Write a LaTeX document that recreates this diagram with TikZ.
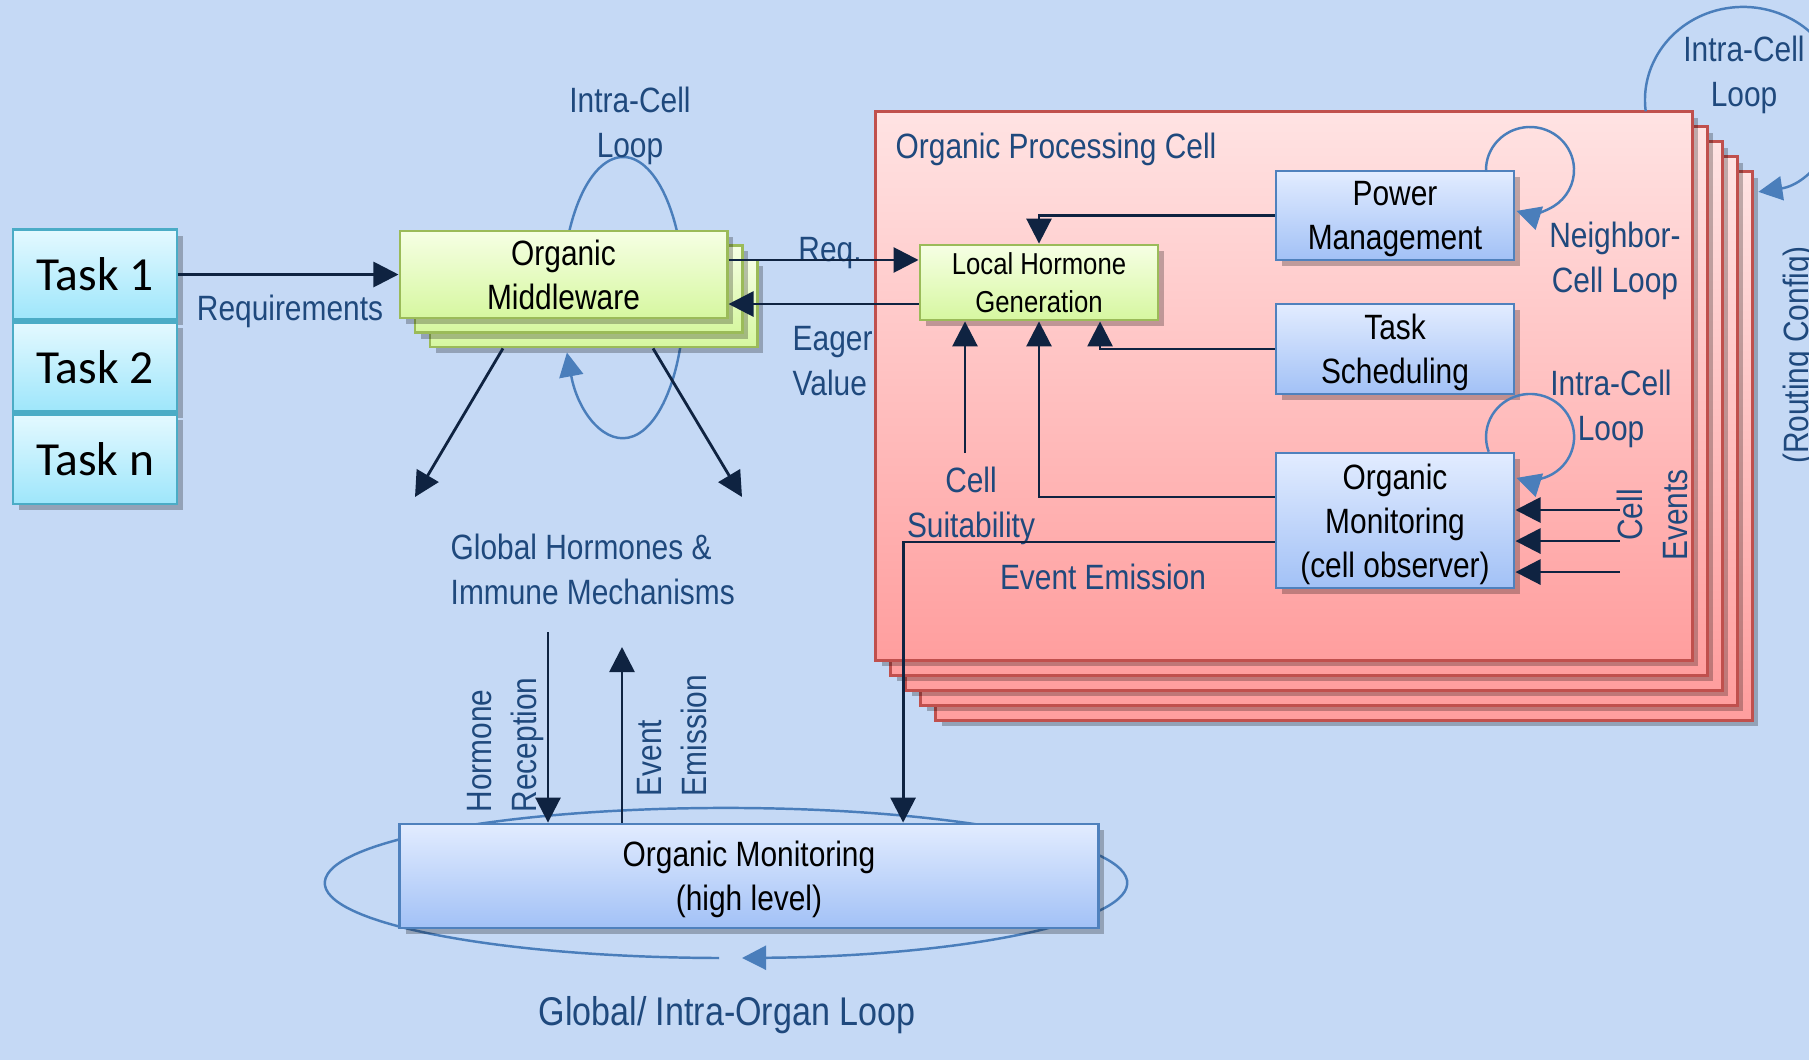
\documentclass[tikz,border=0pt]{standalone}
\usepackage{fontspec}
\setmainfont{Liberation Sans}[FakeStretch=0.85]
\newfontfamily\taskfont{Carlito}
\usetikzlibrary{arrows.meta, positioning, shadows}

\definecolor{bgblue}{HTML}{C5D9F5}
\definecolor{labelblue}{HTML}{1F497D}
\definecolor{arrowdark}{HTML}{0F2341}
\definecolor{loopblue}{HTML}{4A7EBB}
\definecolor{tasktop}{HTML}{E4F9FF}
\definecolor{taskbot}{HTML}{9EE6FB}
\definecolor{taskedge}{HTML}{4BACC6}
\definecolor{mwtop}{HTML}{F6FFE4}
\definecolor{mwbot}{HTML}{D6F7A0}
\definecolor{mwedge}{HTML}{9BBB59}
\definecolor{bluetop}{HTML}{E2ECFF}
\definecolor{bluebot}{HTML}{A2C1F6}
\definecolor{blueedge}{HTML}{4F81BD}
\definecolor{celltop}{HTML}{FFE3E3}
\definecolor{cellbot}{HTML}{FF9E9E}
\definecolor{celledge}{HTML}{C0504D}

\newcommand\boxfont{\fontsize{10}{12.5}\selectfont}
\newcommand\smallboxfont{\fontsize{8.6}{10.8}\selectfont}
\newcommand\lblfont{\fontsize{10}{12.8}\selectfont}
\newcommand\biglblfont{\fontsize{11.4}{14}\selectfont}

\begin{document}
\begin{tikzpicture}[x=0.01cm, y=-0.01cm,
        every node/.style={inner sep=0pt},
        shadowed/.style={drop shadow={shadow xshift=0.6mm, shadow yshift=-0.6mm, opacity=0.25, fill=black}},
        taskbox/.style={draw=taskedge, line width=0.8pt, top color=tasktop, bottom color=taskbot, shadowed, minimum width=1.64cm, minimum height=0.895cm, text depth=0pt, font=\taskfont\fontsize{13.5}{16}\selectfont},
        mwbox/.style={draw=mwedge, line width=0.8pt, top color=mwtop, bottom color=mwbot, shadowed, minimum width=3.27cm, minimum height=0.87cm, align=center, text depth=0pt, font=\boxfont},
        bluebox/.style={draw=blueedge, line width=0.8pt, top color=bluetop, bottom color=bluebot, shadowed, minimum width=2.38cm, align=center, text depth=0pt, font=\boxfont},
        cellbox/.style={draw=celledge, line width=0.8pt, top color=celltop, bottom color=cellbot, shadowed, minimum width=8.16cm, minimum height=5.48cm},
        lbl/.style={text=labelblue, font=\lblfont, align=center},
        midlbl/.style={lbl, text depth=0pt},
        line/.style={draw=arrowdark, line width=0.8pt, -{Triangle[length=2.5mm, width=2.5mm]}},
        loopline/.style={draw=loopblue, line width=0.7pt, -{Triangle[length=2.4mm, width=2.4mm]}}
    ]

    % Background
    \fill[bgblue] (0,0) rectangle (1809,1060);
    \useasboundingbox (0,0) rectangle (1809,1060);

    % Middleware loop (behind the boxes)
    \draw[loopline] (563,322) arc[start angle=190, end angle=-157, x radius=0.61cm, y radius=1.405cm];

    % Tasks
    \node[taskbox] (task1) at (95,274.5) {Task 1};
    \node[taskbox, below=0pt of task1] (task2) {Task 2};
    \node[taskbox, below=0pt of task2] (task3) {Task n};

    % Organic middleware (stacked)
    \node[mwbox] (mw3) at (593.5,303.5) {};
    \node[mwbox] (mw2) at (578.5,289) {};
    \node[mwbox] (mw) at (563.5,274.5) {Organic\\Middleware};

    % Organic processing cells (stacked)
    \foreach \k in {4,3,2,1}
        \node[cellbox] at (1284+15*\k,386+15*\k) {};
    \node[cellbox] (cell) at (1284,386) {};

    % Cell components
    \node[bluebox, draw=mwedge, top color=mwtop, bottom color=mwbot, minimum height=0.75cm, font=\smallboxfont] (lhg) at (1039,282.5) {Local Hormone\\Generation};
    \node[bluebox, minimum height=0.89cm] (pm) at (1395,215.5) {Power\\Management};
    \node[bluebox, minimum height=0.90cm] (ts) at (1395,349) {Task\\Scheduling};
    \node[bluebox, minimum height=1.35cm] (om) at (1395,520.5) {Organic\\Monitoring\\(cell observer)};

    % High level monitoring with organ loop
    \draw[loopline] (719,958) arc[start angle=269, end angle=-87.7, x radius=4.01cm, y radius=0.75cm];
    \node[bluebox, minimum width=6.98cm, minimum height=1.04cm] (omh) at (749,876) {Organic Monitoring\\(high level)};

    % Labels
    \node[lbl, anchor=base] (reqlbl) at (290,320) {Requirements};
    \node[lbl, anchor=base] (reqshort) at (830,261) {Req.};
    \node[lbl, anchor=west, align=left] (eager) at (792,361) {Eager\\Value};
    \node[midlbl] (mwloop) at (630,122) {Intra-Cell\\Loop};
    \node[lbl, anchor=west, align=left] (global) at (450,569) {Global Hormones \&\\Immune Mechanisms};
    \node[lbl, anchor=base west] (celltitle) at (895,158) {Organic Processing Cell};
    \node[midlbl] (suit) at (971,502) {Cell\\Suitability};
    \node[lbl] (emitlbl) at (1103,577) {Event Emission};
    \node[midlbl] (nbloop) at (1615,257) {Neighbor-\\Cell Loop};
    \node[midlbl] (omloop) at (1611,405) {Intra-Cell\\Loop};
    \node[midlbl] (toploop) at (1744,71) {Intra-Cell\\Loop};
    \node[lbl, rotate=90] (events) at (1652,515) {Cell\\Events};
    \node[lbl, rotate=90, anchor=base] (routing) at (1808,355) {(Routing Config)};
    \node[midlbl, rotate=90, anchor=west, align=left] (horm) at (501.5,813) {Hormone\\Reception};
    \node[midlbl, rotate=90, anchor=west, align=left] (emitup) at (671.5,797) {Event\\Emission};
    \node[midlbl, font=\biglblfont] (organ) at (727,1011) {Global/ Intra-Organ Loop};

    % Free ends
    \coordinate (reqin) at ([yshift=2.25mm]lhg.west);
    \coordinate (eagerout) at ([yshift=-2.15mm]lhg.west);
    \coordinate (suitfoot) at (965,453);
    \coordinate (hormleft) at (415,497);
    \coordinate (hormright) at (742,497);
    \coordinate (hormtop) at (548,632);
    \coordinate (emittop) at (622,647);

    % Connections
    \draw[line] (task1) -- (mw);
    \draw[line] (reqin -| mw.east) -- (reqin);
    \draw[line] (eagerout) -- (eagerout -| mw.east);
    \draw[line] (pm.west) -| (lhg.north);
    \draw[line] (ts.west) -| ([xshift=6.1mm]lhg.south);
    \draw[line] ([yshift=2.35mm]om.west) -| (lhg.south);
    \draw[line] (suitfoot) -- (suitfoot |- lhg.south);
    \draw[line] ([yshift=-2.15mm]om.west) -| ([xshift=15.4mm]omh.north);
    \draw[line] ([xshift=-9.05mm]mw3.south) -- (hormleft);
    \draw[line] ([xshift=5.95mm]mw3.south) -- (hormright);
    \draw[line] (hormtop) -- (hormtop |- omh.north);
    \draw[line] (emittop |- omh.north) -- (emittop);
    \foreach \dy in {1.05,-2.05,-5.15}
        \draw[line] ([xshift=10.4mm, yshift=\dy mm]om.east) -- ([yshift=\dy mm]om.east);

    % Loops
    \draw[loopline] (1486,171.5) arc[start angle=182, end angle=-108, x radius=0.44cm, y radius=0.43cm];
    \draw[loopline] (1488.7,451.7) arc[start angle=200, end angle=-108, x radius=0.44cm, y radius=0.43cm];
    \draw[loopline] (1645.7,111.3) arc[start angle=187, end angle=-81, x radius=0.98cm, y radius=0.93cm];

\end{tikzpicture}
\end{document}
